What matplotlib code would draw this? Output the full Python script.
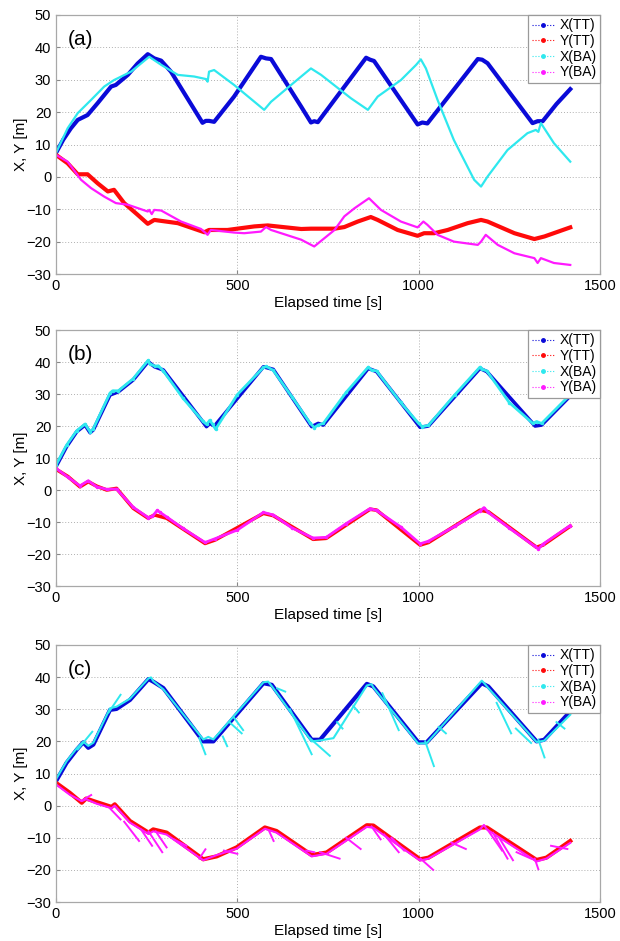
import matplotlib
matplotlib.use("Agg")
import matplotlib.pyplot as plt
from matplotlib.lines import Line2D
import numpy as np

plt.rcParams['font.family'] = ['Liberation Sans', 'DejaVu Sans']

# ---------------- Panel (a) ----------------
XTT_a_t = [0, 20, 41, 60, 87, 115, 152, 165, 198, 225, 253, 271, 290, 317, 404, 413, 422, 436, 491, 565, 579, 593, 676, 703, 712, 722, 768, 855, 866, 877, 997, 1010, 1024, 1163, 1175, 1190, 1314, 1328, 1342, 1380, 1418]
XTT_a_v = [7.4, 11.5, 15, 17.6, 19.1, 22.8, 27.9, 28.4, 31.5, 35, 37.9, 36.6, 35.9, 32.5, 16.7, 17.3, 17.3, 17, 24.8, 37.1, 36.6, 36.4, 21.7, 16.8, 17.2, 16.9, 23.8, 36.8, 36.2, 35.8, 16.2, 16.8, 16.5, 36.4, 36.2, 35.1, 16.6, 17.2, 17.2, 22.5, 27.1]

YTT_a_t = [0, 32, 60, 87, 115, 143, 160, 188, 225, 253, 271, 336, 409, 422, 473, 547, 584, 676, 703, 768, 795, 832, 868, 887, 942, 997, 1015, 1043, 1080, 1135, 1172, 1190, 1264, 1319, 1347, 1418]
YTT_a_v = [6.8, 4.2, 0.8, 0.8, -2, -4.5, -4, -8.1, -11.7, -14.5, -13.3, -14.3, -17.1, -16.4, -16.4, -15.3, -15, -16.1, -16, -16, -15.5, -13.8, -12.4, -13.3, -16.4, -18.2, -17.4, -17.4, -16.4, -14.3, -13.3, -13.8, -17.4, -19.2, -18.4, -15.6]

XBA_a_t = [0, 32, 60, 97, 133, 160, 207, 257, 290, 336, 381, 414, 418, 422, 436, 491, 574, 593, 676, 703, 731, 813, 860, 887, 951, 993, 1006, 1020, 1052, 1097, 1153, 1172, 1190, 1245, 1300, 1323, 1330, 1337, 1373, 1418]
XBA_a_v = [7.4, 15, 19.7, 23.8, 27.9, 29.9, 32.5, 37.1, 34.6, 31.5, 31, 30.2, 29.4, 32.5, 33, 28.4, 20.7, 23.2, 31, 33.5, 31.5, 24.3, 20.7, 24.8, 29.9, 34.6, 36.3, 33.5, 23.8, 11.4, -0.9, -3, 0.1, 8.3, 13.5, 14.5, 13.9, 16.6, 10.4, 4.7]

YBA_a_t = [0, 32, 69, 97, 133, 165, 198, 253, 257, 264, 271, 290, 345, 400, 418, 427, 491, 519, 565, 579, 593, 676, 712, 768, 795, 823, 863, 896, 951, 997, 1013, 1024, 1052, 1097, 1163, 1172, 1185, 1218, 1264, 1319, 1328, 1337, 1373, 1418]
YBA_a_v = [6.8, 4.7, -0.9, -3.5, -6.1, -8.1, -8.6, -10.7, -10.2, -11.5, -10.2, -10.4, -13.8, -16.1, -17.9, -16.4, -17.2, -17.4, -16.9, -15.5, -16.4, -19.4, -21.5, -16.4, -12.2, -9.7, -6.6, -10.2, -13.8, -15.6, -13.8, -14.8, -17.9, -20, -21, -20, -17.9, -21, -23.6, -25.1, -26.6, -25.1, -26.6, -27.2]

# ---------------- Panel (b) ----------------
XTT_b_t = [0, 29, 57, 80, 94, 103, 149, 172, 213, 254, 272, 296, 415, 424, 437, 572, 599, 705, 723, 737, 861, 884, 1004, 1027, 1169, 1188, 1321, 1339, 1418]
XTT_b_v = [7.3, 13.5, 18.2, 20.3, 17.9, 18.8, 29.7, 30.7, 34.4, 40.1, 38.5, 37.5, 19.8, 20.8, 20, 38.5, 37.7, 19.8, 20.8, 20.3, 38, 37, 19.6, 20, 38, 37, 20, 20.3, 29.4]

YTT_b_t = [0, 33, 66, 89, 112, 140, 167, 213, 254, 272, 305, 411, 439, 572, 599, 709, 745, 866, 884, 1004, 1027, 1169, 1192, 1325, 1343, 1418]
YTT_b_v = [6.5, 4.2, 1.0, 2.6, 1.2, 0, 0.5, -5.7, -8.8, -7.8, -8.8, -16.7, -15.6, -7.3, -8, -15.4, -15.1, -6, -6.3, -17.2, -16.4, -6.3, -6.8, -17.9, -17.2, -11.3]

XBA_b_t = [0, 29, 57, 80, 94, 103, 149, 156, 172, 213, 254, 258, 272, 282, 296, 350, 405, 415, 424, 432, 440, 500, 572, 580, 599, 650, 700, 712, 723, 737, 800, 861, 870, 884, 950, 1000, 1010, 1027, 1100, 1169, 1175, 1188, 1250, 1315, 1325, 1339, 1418]
XBA_b_v = [7.8, 14, 18.5, 20.6, 18.2, 19.2, 30.3, 31, 31, 34.8, 40.5, 39.5, 38.7, 38.8, 37.2, 28.7, 21.5, 20.5, 21.8, 20.5, 19, 29.8, 38.3, 38.6, 37.4, 29.2, 21, 19.5, 20.3, 20.8, 30.5, 38.4, 37.5, 37.2, 27.4, 20.8, 19.8, 20.2, 29.8, 38.4, 37.7, 37.2, 27.3, 20.8, 21.4, 20.8, 29.8]

YBA_b_t = [0, 33, 66, 89, 112, 140, 167, 213, 254, 266, 279, 287, 305, 350, 411, 439, 500, 572, 599, 650, 709, 745, 800, 866, 884, 950, 1004, 1027, 1100, 1169, 1180, 1192, 1250, 1320, 1330, 1343, 1418]
YBA_b_v = [6.8, 4.0, 1.3, 2.9, 1.0, 0.2, 0.3, -5.4, -8.6, -8.2, -6.4, -7.0, -8.4, -12.0, -16.4, -15.2, -12.5, -7.0, -7.8, -11.8, -15.0, -14.8, -10.5, -5.8, -6.4, -11.5, -16.8, -16.0, -11.3, -6.6, -5.5, -7.0, -11.9, -17.6, -18.4, -16.9, -11.1]

# ---------------- Panel (c) ----------------
XTT_c_t = [0, 29, 57, 75, 89, 103, 149, 167, 204, 255, 268, 296, 406, 434, 572, 595, 705, 728, 857, 875, 999, 1022, 1174, 1192, 1325, 1346, 1418]
XTT_c_v = [7.6, 13.3, 17.4, 19.7, 18, 19, 29.8, 30.1, 32.9, 39.4, 38.6, 36.6, 20, 20, 38.1, 37.6, 20.5, 20.5, 37.9, 37.1, 19.7, 19.7, 38.1, 37.1, 20, 20.5, 29.3]

YTT_c_t = [0, 38, 71, 83, 112, 153, 162, 204, 255, 268, 305, 406, 443, 498, 576, 608, 705, 746, 857, 875, 1004, 1027, 1169, 1188, 1325, 1352, 1418]
YTT_c_v = [7.1, 4, 0.9, 2.2, 1.1, -0.4, 0.4, -4.8, -8.4, -7.4, -8.4, -16.7, -15.8, -13, -6.8, -7.9, -15.4, -14.6, -6.1, -6.2, -16.7, -16.2, -6.8, -6.8, -16.9, -16.2, -11]

XBA_c_t = [0, 29, 57, 75, 89, 103, 149, 167, 204, 255, 262, 268, 296, 406, 420, 434, 572, 585, 595, 705, 728, 765, 857, 870, 875, 999, 1010, 1022, 1174, 1180, 1192, 1325, 1346, 1418]
XBA_c_v = [8.2, 13.8, 17.8, 19.9, 18.6, 19.6, 30.3, 30.8, 33.3, 39.6, 39.9, 38.8, 36.2, 20.6, 21.4, 20.6, 38.4, 38.6, 37.2, 20, 20.3, 21, 37.4, 37.8, 36.8, 19.3, 19.4, 19.4, 38.9, 38.2, 36.6, 19.8, 20.2, 28.3]
XBA_c_br_t0 = [60, 145, 395, 460, 478, 490, 610, 645, 700, 775, 820, 900, 1018, 1055, 1215, 1268, 1330, 1380]
XBA_c_br_v0 = [17.5, 29, 21, 21.5, 26, 27.5, 36.5, 30, 21, 26, 31, 35, 20, 24.5, 32, 24, 20.5, 26]
XBA_c_br_t1 = [100, 178, 412, 472, 512, 516, 632, 705, 755, 790, 835, 945, 1042, 1075, 1255, 1310, 1347, 1402]
XBA_c_br_v1 = [23, 34.5, 16, 18.5, 22.5, 23.5, 35.5, 16, 15.5, 24, 29, 23.5, 12.3, 22.5, 22.5, 19.5, 15, 24]

YBA_c_t = [0, 38, 71, 83, 112, 153, 162, 204, 255, 268, 305, 406, 443, 498, 576, 608, 705, 746, 857, 875, 1004, 1027, 1169, 1180, 1188, 1325, 1352, 1418]
YBA_c_v = [6.6, 3.4, 1.4, 2.0, 0.6, -0.8, 0.0, -5.3, -8.8, -8.0, -9.0, -17.0, -15.4, -13.4, -7.2, -8.4, -15.8, -15.0, -6.6, -6.9, -17.1, -16.5, -7.4, -6.0, -7.4, -17.4, -16.5, -11.6]
YBA_c_br_t0 = [70, 150, 188, 235, 255, 275, 325, 395, 463, 588, 690, 728, 800, 870, 905, 925, 1005, 1090, 1190, 1205, 1222, 1270, 1320, 1365]
YBA_c_br_v0 = [1.5, -1, -5, -7.5, -8, -8, -10.5, -16.5, -14, -8, -14, -14.5, -10, -6.5, -9, -10, -16.5, -11.5, -7.5, -8.5, -10, -14.5, -16.5, -12.5]
YBA_c_br_t1 = [97, 178, 229, 265, 293, 305, 360, 412, 500, 600, 712, 782, 840, 895, 945, 960, 1040, 1130, 1230, 1245, 1260, 1310, 1330, 1410]
YBA_c_br_v1 = [3.3, -4.3, -11, -12.5, -14.5, -13, -12.5, -13.6, -15, -11, -14.5, -16.5, -13.5, -10.5, -14.5, -14, -20, -13.5, -14, -16.5, -17, -16.5, -19.8, -13.5]

panel_labels = ['(a)', '(b)', '(c)']
legend_labels = ['X(TT)', 'Y(TT)', 'X(BA)', 'Y(BA)']
xticks = [0, 500, 1000, 1500]
yticks = [-30, -20, -10, 0, 10, 20, 30, 40, 50]

C_X_TT = '#0a0ad8'
C_Y_TT = '#ff0a0a'
C_X_BA = '#2ee8ee'
C_Y_BA = '#ff1aff'

fig = plt.figure(figsize=(6.2, 9.41), dpi=100)
left, width = 56 / 620, 544 / 620
tops = [15, 330, 645]
bots = [274, 586, 902]
axes = []
for tp, bt in zip(tops, bots):
    ax = fig.add_axes([left, 1 - bt / 941, width, (bt - tp) / 941])
    axes.append(ax)

def style(ax, lab):
    ax.set_xlim(0, 1500)
    ax.set_ylim(-30, 50)
    ax.set_xticks(xticks)
    ax.set_yticks(yticks)
    ax.grid(True, linestyle=(0, (1, 2)), color='#b0b0b0', linewidth=0.7)
    ax.tick_params(direction='in', length=3, labelsize=10.5, color='#888888', pad=3.5)
    for s in ax.spines.values():
        s.set_color('#a8a8a8')
        s.set_linewidth(0.9)
    ax.set_xlabel('Elapsed time [s]', fontsize=11, labelpad=2.5)
    ax.set_ylabel('X, Y [m]', fontsize=11, labelpad=-1)
    ax.text(0.022, 0.905, lab, transform=ax.transAxes, fontsize=15, ha='left', va='center')
    handles = [Line2D([0], [0], color=c, linestyle=':', linewidth=0.8, marker='.', markersize=5)
               for c in (C_X_TT, C_Y_TT, C_X_BA, C_Y_BA)]
    leg = ax.legend(handles, legend_labels, loc='upper right', bbox_to_anchor=(1.0, 1.0),
                    borderaxespad=0, fancybox=False, framealpha=1, edgecolor='#9a9a9a',
                    fontsize=10, handlelength=1.7, handletextpad=0.3, labelspacing=0.12,
                    borderpad=0.25)
    leg.get_frame().set_linewidth(0.9)

# (a)
ax = axes[0]
ax.plot(XTT_a_t, XTT_a_v, color=C_X_TT, lw=3.0, solid_joinstyle='round')
ax.plot(YTT_a_t, YTT_a_v, color=C_Y_TT, lw=3.0, solid_joinstyle='round')
ax.plot(XBA_a_t, XBA_a_v, color=C_X_BA, lw=1.6)
ax.plot(YBA_a_t, YBA_a_v, color=C_Y_BA, lw=1.6)
style(ax, panel_labels[0])

# (b)
ax = axes[1]
ax.plot(XTT_b_t, XTT_b_v, color=C_X_TT, lw=2.6, solid_joinstyle='round')
ax.plot(YTT_b_t, YTT_b_v, color=C_Y_TT, lw=2.6, solid_joinstyle='round')
ax.plot(XBA_b_t, XBA_b_v, color=C_X_BA, lw=2.0, marker='.', markersize=3, markevery=1)
ax.plot(YBA_b_t, YBA_b_v, color=C_Y_BA, lw=2.0, marker='.', markersize=3, markevery=1)
style(ax, panel_labels[1])

# (c)
ax = axes[2]
ax.plot(XTT_c_t, XTT_c_v, color=C_X_TT, lw=3.0, solid_joinstyle='round')
ax.plot(YTT_c_t, YTT_c_v, color=C_Y_TT, lw=3.0, solid_joinstyle='round')
ax.plot(XBA_c_t, XBA_c_v, color=C_X_BA, lw=1.5)
for t0, v0, t1, v1 in zip(XBA_c_br_t0, XBA_c_br_v0, XBA_c_br_t1, XBA_c_br_v1):
    ax.plot([t0, t1], [v0, v1], color=C_X_BA, lw=1.4)
ax.plot(YBA_c_t, YBA_c_v, color=C_Y_BA, lw=1.5)
for t0, v0, t1, v1 in zip(YBA_c_br_t0, YBA_c_br_v0, YBA_c_br_t1, YBA_c_br_v1):
    ax.plot([t0, t1], [v0, v1], color=C_Y_BA, lw=1.4)
style(ax, panel_labels[2])

fig.savefig('out.png', dpi=100)
